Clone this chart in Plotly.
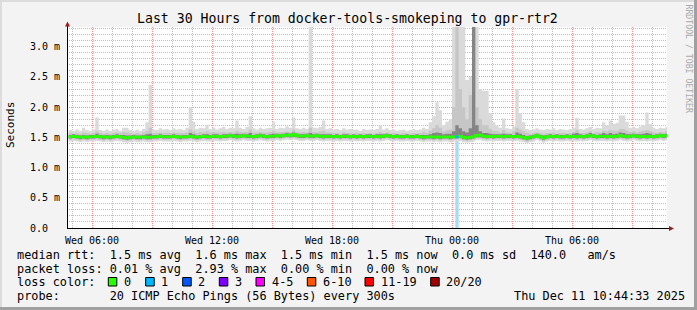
import pandas as pd
import plotly.graph_objects as go

MONO = "DejaVu Sans Mono"

# ---------------- data (milliseconds, 10-minute steps starting Wed 04:50) ----------------
start_time = "2025-12-10 04:50"
step_minutes = 10

median_ms = [
    1.51,1.52,1.51,1.50,1.51,1.50,1.51,1.51,1.52,1.51,
    1.50,1.51,1.50,1.51,1.52,1.51,1.50,1.49,1.50,1.51,
    1.50,1.50,1.51,1.50,1.50,1.51,1.51,1.52,1.51,1.51,
    1.51,1.52,1.51,1.50,1.51,1.51,1.52,1.51,1.50,1.51,
    1.52,1.51,1.51,1.52,1.52,1.51,1.52,1.52,1.53,1.52,
    1.51,1.52,1.53,1.52,1.52,1.51,1.52,1.53,1.52,1.51,
    1.52,1.52,1.53,1.52,1.53,1.54,1.53,1.55,1.53,1.52,
    1.52,1.53,1.52,1.52,1.53,1.52,1.51,1.52,1.52,1.51,
    1.52,1.51,1.52,1.52,1.51,1.52,1.51,1.52,1.51,1.52,
    1.52,1.51,1.52,1.51,1.52,1.53,1.52,1.51,1.52,1.51,
    1.51,1.52,1.51,1.51,1.52,1.51,1.50,1.51,1.51,1.50,
    1.51,1.50,1.51,1.51,1.50,1.51,1.51,1.52,1.50,1.49,
    1.50,1.51,1.53,1.54,1.52,1.51,1.52,1.51,1.52,1.52,
    1.51,1.52,1.52,1.51,1.52,1.51,1.50,1.48,1.50,1.51,
    1.53,1.51,1.49,1.51,1.52,1.51,1.52,1.51,1.51,1.52,
    1.51,1.52,1.51,1.52,1.51,1.52,1.53,1.52,1.51,1.52,
    1.52,1.51,1.52,1.51,1.52,1.53,1.52,1.51,1.52,1.53,
    1.52,1.51,1.52,1.51,1.52,1.51,1.52,1.53,1.52,1.53,
]

smoke_max_ms = [
    1.62,1.60,1.63,1.61,1.66,1.62,1.60,1.63,1.83,1.62,
    1.61,1.63,1.60,1.62,1.64,1.61,1.66,1.66,1.62,1.60,
    1.63,1.61,1.64,1.75,2.37,1.63,1.62,1.65,1.63,1.64,
    1.62,1.65,1.63,1.64,1.62,1.66,2.00,1.76,1.64,1.66,
    1.65,1.71,1.64,1.66,1.63,1.65,1.67,1.64,1.66,1.65,
    1.78,1.66,1.64,1.67,1.85,1.65,1.63,1.66,1.64,1.65,
    1.66,1.75,1.64,1.66,1.65,1.68,1.66,1.83,1.65,1.64,
    1.66,1.64,3.40,1.66,1.65,1.67,1.78,1.64,1.65,1.63,
    1.64,1.62,1.65,1.63,1.64,1.62,1.63,1.61,1.64,1.62,
    1.63,1.62,1.64,1.70,1.63,1.65,1.62,1.63,1.61,1.62,
    1.63,1.61,1.62,1.64,1.62,1.63,1.66,1.64,1.75,1.85,
    2.08,1.95,1.70,1.76,1.80,3.40,3.40,3.40,3.40,2.45,
    2.50,3.40,3.40,2.30,2.27,2.27,1.90,1.75,1.70,1.66,
    1.81,1.65,1.64,1.68,2.30,1.90,1.75,1.64,1.62,1.63,
    1.65,1.63,1.62,1.64,1.63,1.65,1.62,1.64,1.63,1.62,
    1.64,1.66,1.82,1.64,1.63,1.65,1.67,1.64,1.66,1.65,
    1.75,1.70,1.78,1.72,1.74,1.86,1.86,1.76,1.66,1.67,
    1.65,1.68,1.70,1.91,1.72,1.66,1.64,1.66,1.65,1.67,
]

smoke_hi_ms = [
    1.57,1.56,1.57,1.56,1.58,1.57,1.56,1.57,1.60,1.57,
    1.56,1.57,1.56,1.57,1.58,1.57,1.59,1.58,1.57,1.56,
    1.57,1.56,1.58,1.60,1.66,1.57,1.57,1.58,1.57,1.58,
    1.57,1.58,1.57,1.57,1.57,1.58,1.63,1.60,1.57,1.59,
    1.58,1.60,1.58,1.59,1.58,1.58,1.59,1.58,1.59,1.58,
    1.61,1.59,1.58,1.59,1.63,1.58,1.58,1.59,1.58,1.58,
    1.59,1.61,1.58,1.59,1.59,1.60,1.59,1.63,1.59,1.58,
    1.59,1.58,1.66,1.59,1.58,1.60,1.61,1.58,1.58,1.57,
    1.57,1.56,1.58,1.57,1.57,1.56,1.57,1.56,1.57,1.56,
    1.57,1.56,1.57,1.59,1.57,1.58,1.56,1.57,1.56,1.56,
    1.57,1.56,1.56,1.57,1.56,1.57,1.59,1.57,1.61,1.65,
    1.70,1.66,1.60,1.62,1.63,2.00,3.40,2.30,2.00,1.80,
    2.20,3.40,2.00,1.80,1.70,1.70,1.64,1.61,1.60,1.58,
    1.62,1.58,1.57,1.60,1.66,1.63,1.60,1.57,1.56,1.57,
    1.58,1.57,1.56,1.57,1.57,1.58,1.56,1.57,1.57,1.56,
    1.57,1.59,1.62,1.57,1.57,1.58,1.60,1.57,1.59,1.58,
    1.61,1.60,1.62,1.61,1.61,1.64,1.64,1.61,1.59,1.60,
    1.58,1.60,1.61,1.62,1.61,1.59,1.57,1.59,1.58,1.60,
]

q3_ms = [
    1.54,1.55,1.54,1.53,1.54,1.53,1.54,1.54,1.56,1.54,
    1.53,1.54,1.53,1.54,1.55,1.54,1.54,1.53,1.53,1.54,
    1.53,1.53,1.54,1.55,1.56,1.54,1.54,1.55,1.54,1.54,
    1.54,1.55,1.54,1.53,1.54,1.54,1.57,1.55,1.53,1.54,
    1.55,1.55,1.54,1.55,1.55,1.54,1.55,1.55,1.56,1.55,
    1.56,1.55,1.56,1.55,1.57,1.54,1.55,1.56,1.55,1.54,
    1.55,1.56,1.56,1.55,1.56,1.57,1.56,1.58,1.56,1.55,
    1.55,1.56,1.57,1.55,1.56,1.55,1.55,1.55,1.55,1.54,
    1.55,1.54,1.55,1.55,1.54,1.55,1.54,1.55,1.54,1.55,
    1.55,1.54,1.55,1.55,1.55,1.56,1.55,1.54,1.55,1.54,
    1.54,1.55,1.54,1.54,1.55,1.54,1.54,1.54,1.55,1.57,
    1.58,1.57,1.55,1.56,1.56,1.60,1.70,1.65,1.60,1.58,
    1.65,3.40,1.70,1.60,1.57,1.57,1.56,1.55,1.55,1.55,
    1.56,1.55,1.55,1.54,1.58,1.56,1.54,1.52,1.53,1.54,
    1.56,1.54,1.53,1.54,1.55,1.54,1.55,1.54,1.54,1.55,
    1.54,1.56,1.57,1.55,1.54,1.55,1.57,1.55,1.54,1.55,
    1.57,1.55,1.57,1.55,1.56,1.58,1.57,1.55,1.55,1.56,
    1.55,1.55,1.56,1.57,1.56,1.54,1.55,1.56,1.55,1.56,
]

q1_ms = [
    1.48,1.49,1.48,1.47,1.48,1.47,1.48,1.48,1.49,1.48,
    1.47,1.48,1.47,1.48,1.49,1.48,1.47,1.46,1.47,1.48,
    1.47,1.47,1.48,1.47,1.47,1.48,1.48,1.49,1.48,1.48,
    1.48,1.49,1.48,1.47,1.48,1.48,1.49,1.48,1.47,1.48,
    1.49,1.48,1.48,1.49,1.49,1.48,1.49,1.49,1.50,1.49,
    1.48,1.49,1.50,1.49,1.49,1.48,1.49,1.50,1.49,1.48,
    1.49,1.49,1.50,1.49,1.50,1.51,1.50,1.51,1.50,1.49,
    1.49,1.50,1.49,1.49,1.50,1.49,1.48,1.49,1.49,1.48,
    1.49,1.48,1.49,1.49,1.48,1.49,1.48,1.49,1.48,1.49,
    1.49,1.48,1.49,1.48,1.49,1.50,1.49,1.48,1.49,1.48,
    1.48,1.49,1.48,1.48,1.49,1.48,1.47,1.48,1.48,1.47,
    1.48,1.47,1.48,1.48,1.47,1.48,1.48,1.49,1.47,1.46,
    1.47,1.48,1.50,1.50,1.49,1.48,1.49,1.48,1.49,1.49,
    1.48,1.49,1.49,1.48,1.49,1.48,1.47,1.45,1.47,1.48,
    1.50,1.48,1.46,1.48,1.49,1.48,1.49,1.48,1.48,1.49,
    1.48,1.49,1.48,1.49,1.48,1.49,1.50,1.49,1.48,1.49,
    1.49,1.48,1.49,1.48,1.49,1.50,1.49,1.48,1.49,1.50,
    1.49,1.48,1.49,1.48,1.49,1.48,1.49,1.50,1.49,1.50,
]

smoke_lo_ms = [
    1.46,1.47,1.46,1.45,1.46,1.45,1.46,1.46,1.47,1.46,
    1.45,1.46,1.45,1.46,1.47,1.46,1.45,1.44,1.45,1.46,
    1.45,1.45,1.46,1.45,1.45,1.46,1.46,1.47,1.46,1.46,
    1.46,1.47,1.46,1.45,1.46,1.46,1.47,1.46,1.45,1.46,
    1.47,1.46,1.46,1.47,1.47,1.46,1.47,1.47,1.48,1.47,
    1.46,1.47,1.48,1.47,1.47,1.46,1.47,1.48,1.47,1.46,
    1.47,1.47,1.48,1.47,1.48,1.49,1.48,1.49,1.48,1.47,
    1.47,1.48,1.47,1.47,1.48,1.47,1.46,1.47,1.47,1.46,
    1.47,1.46,1.47,1.47,1.46,1.47,1.46,1.47,1.46,1.47,
    1.47,1.46,1.47,1.46,1.47,1.48,1.47,1.46,1.47,1.46,
    1.46,1.47,1.46,1.46,1.47,1.46,1.45,1.46,1.46,1.45,
    1.46,1.45,1.46,1.46,1.45,1.46,1.46,1.47,1.45,1.44,
    1.45,1.46,1.48,1.48,1.47,1.46,1.47,1.46,1.47,1.47,
    1.46,1.47,1.47,1.46,1.47,1.46,1.45,1.43,1.45,1.46,
    1.48,1.46,1.44,1.46,1.47,1.46,1.47,1.46,1.46,1.47,
    1.46,1.47,1.46,1.47,1.46,1.47,1.48,1.47,1.46,1.47,
    1.47,1.46,1.47,1.46,1.47,1.48,1.47,1.46,1.47,1.48,
    1.47,1.46,1.47,1.46,1.47,1.46,1.47,1.48,1.47,1.48,
]

smoke_min_ms = [
    1.43,1.44,1.43,1.42,1.43,1.42,1.43,1.43,1.44,1.43,
    1.42,1.43,1.42,1.43,1.44,1.43,1.42,1.41,1.42,1.43,
    1.42,1.42,1.43,1.42,1.42,1.43,1.43,1.44,1.43,1.43,
    1.43,1.44,1.43,1.42,1.43,1.43,1.44,1.43,1.42,1.43,
    1.44,1.43,1.43,1.44,1.44,1.43,1.44,1.44,1.45,1.44,
    1.43,1.44,1.45,1.44,1.44,1.43,1.44,1.45,1.44,1.43,
    1.44,1.44,1.45,1.44,1.45,1.46,1.45,1.46,1.45,1.44,
    1.44,1.45,1.44,1.44,1.45,1.44,1.43,1.44,1.44,1.43,
    1.44,1.43,1.44,1.44,1.43,1.44,1.43,1.44,1.43,1.44,
    1.44,1.43,1.44,1.43,1.44,1.45,1.44,1.43,1.44,1.43,
    1.43,1.44,1.43,1.43,1.44,1.43,1.42,1.43,1.43,1.42,
    1.43,1.42,1.43,1.43,1.42,1.43,1.43,1.44,1.42,1.41,
    1.42,1.43,1.45,1.45,1.44,1.43,1.44,1.43,1.44,1.44,
    1.43,1.44,1.44,1.43,1.44,1.43,1.42,1.40,1.42,1.43,
    1.45,1.43,1.41,1.43,1.44,1.43,1.44,1.43,1.43,1.44,
    1.43,1.44,1.43,1.44,1.43,1.44,1.45,1.44,1.43,1.44,
    1.44,1.43,1.44,1.43,1.44,1.45,1.44,1.43,1.44,1.45,
    1.44,1.43,1.44,1.43,1.44,1.43,1.44,1.45,1.44,1.45,
]

loss_times = ["2025-12-11 00:10"]
loss_pings = [1]

x_range = ["2025-12-10 04:45", "2025-12-11 10:45"]
x_tick_vals = ["2025-12-10 06:00", "2025-12-10 09:00", "2025-12-10 12:00", "2025-12-10 15:00",
               "2025-12-10 18:00", "2025-12-10 21:00", "2025-12-11 00:00", "2025-12-11 03:00",
               "2025-12-11 06:00", "2025-12-11 09:00"]
x_tick_text = ["Wed 06:00", "", "Wed 12:00", "", "Wed 18:00", "", "Thu 00:00", "", "Thu 06:00", ""]
y_tick_vals = [0.0, 0.5, 1.0, 1.5, 2.0, 2.5, 3.0]
y_tick_text = ["0.0\u00a0\u00a0", "0.5 m", "1.0 m", "1.5 m", "2.0 m", "2.5 m", "3.0 m"]

loss_labels = ["0", "1", "2", "3", "4-5", "6-10", "11-19", "20/20"]
loss_colors = ["#26ff00", "#00b8ff", "#0059ff", "#7e00ff", "#ff00ff", "#ff5500", "#ff0000", "#a10000"]

title_text = "Last 30 Hours from docker-tools-smokeping to gpr-rtr2"
stat_line_1 = "median rtt:  1.5 ms avg  1.6 ms max  1.5 ms min  1.5 ms now  0.0 ms sd  140.0   am/s"
stat_line_2 = "packet loss: 0.01 % avg  2.93 % max  0.00 % min  0.00 % now"
stat_line_3 = "loss color:"
probe_line = "probe:       20 ICMP Echo Pings (56 Bytes) every 300s"
stamp_text = "Thu Dec 11 10:44:33 2025"

# ---------------- geometry helpers (pixel -> paper) ----------------
W, H = 697, 310
L, R, T, B = 67, 30, 27, 82
PW, PH = W - L - R, H - T - B


def PX(x):
    return (x - L) / PW


def PY(y):
    return (H - B - y) / PH


step = pd.Timedelta(minutes=step_minutes)
times = list(pd.date_range(start_time, periods=len(median_ms), freq=f"{step_minutes}min"))
xs = times + [times[-1] + step]


def stepped(v):
    return list(v) + [v[-1]]


# minor grid positions (hourly / 0.1 ms) that do not coincide with major grid lines
x_minor = [t for t in pd.date_range("2025-12-10 05:00", "2025-12-11 10:00", freq="1h") if t.hour % 3 != 0]
y_minor = [round(k * 0.1, 1) for k in range(1, 34) if k % 5 != 0]

fig = go.Figure()

bands = [
    (smoke_min_ms, smoke_max_ms, "#dadada"),
    (smoke_lo_ms, smoke_hi_ms, "#c6c6c6"),
    (q1_ms, q3_ms, "#858585"),
]
for lo, hi, col in bands:
    fig.add_trace(go.Scatter(x=xs, y=stepped(lo), mode="lines", line=dict(width=0, shape="hv"),
                             hoverinfo="skip", showlegend=False))
    fig.add_trace(go.Scatter(x=xs, y=stepped(hi), mode="lines", line=dict(width=0, shape="hv"),
                             fill="tonexty", fillcolor=col, hoverinfo="skip", showlegend=False))

# loss bars and median
for lt, lp in zip(loss_times, loss_pings):
    t0 = pd.Timestamp(lt)
    idx = times.index(t0)
    m = median_ms[idx]
    fig.add_trace(go.Bar(x=[t0 + step / 2], y=[m], width=step.total_seconds() * 1000,
                         marker=dict(color="#a8dcf6", line=dict(width=0)), showlegend=False,
                         hoverinfo="skip"))

fig.add_trace(go.Scatter(x=xs, y=stepped(median_ms), mode="lines",
                         line=dict(color=loss_colors[0], width=2.5, shape="hv"),
                         showlegend=False))

for lt, lp in zip(loss_times, loss_pings):
    t0 = pd.Timestamp(lt)
    idx = times.index(t0)
    m = median_ms[idx]
    fig.add_trace(go.Scatter(x=[t0, t0 + step], y=[m, m], mode="lines",
                             line=dict(color=loss_colors[1], width=2.5), showlegend=False))

grid_major = "rgba(255,0,0,0.45)"
grid_minor = "rgba(0,0,0,0.25)"
dots = "1px,1px"

fig.update_layout(
    width=W, height=H,
    margin=dict(l=L, r=R, t=T, b=B, pad=0),
    paper_bgcolor="#f3f3f3",
    plot_bgcolor="#ffffff",
    showlegend=False,
    barmode="overlay",
    font=dict(family=MONO, color="#000000"),
    xaxis=dict(
        type="date", range=x_range,
        tickmode="array", tickvals=x_tick_vals, ticktext=x_tick_text,
        tickfont=dict(family=MONO, size=10, color="#000000"),
        showgrid=True, gridcolor=grid_major, griddash=dots, gridwidth=1,
        minor=dict(tickmode="array", tickvals=x_minor, showgrid=True,
                   gridcolor=grid_minor, griddash=dots, gridwidth=1),
        ticks="outside", ticklen=3, tickcolor="rgba(0,0,0,0)",
        showline=False, zeroline=False, fixedrange=True,
    ),
    yaxis=dict(
        range=[0, 3.326],
        tickmode="array", tickvals=y_tick_vals, ticktext=y_tick_text,
        tickfont=dict(family=MONO, size=10, color="#000000"),
        showgrid=True, gridcolor=grid_major, griddash=dots, gridwidth=1,
        minor=dict(tickmode="array", tickvals=y_minor, showgrid=True,
                   gridcolor=grid_minor, griddash=dots, gridwidth=1),
        ticks="outside", ticklen=4, tickcolor="rgba(0,0,0,0)",
        showline=False, zeroline=False, fixedrange=True,
    ),
)

shapes = []
# axis lines
shapes.append(dict(type="line", xref="paper", yref="paper", x0=PX(67.5), x1=PX(67.5),
                   y0=PY(228.5), y1=PY(26), line=dict(color="#000000", width=1), layer="above"))
shapes.append(dict(type="line", xref="paper", yref="paper", x0=PX(67), x1=PX(669),
                   y0=PY(228.5), y1=PY(228.5), line=dict(color="#000000", width=1), layer="above"))
# arrow heads
arrow_col = "#9b1c1c"
shapes.append(dict(type="path", xref="paper", yref="paper", layer="above",
                   path=f"M {PX(67.5)},{PY(21.5)} L {PX(65)},{PY(26.5)} L {PX(70)},{PY(26.5)} Z",
                   fillcolor=arrow_col, line=dict(width=0)))
shapes.append(dict(type="path", xref="paper", yref="paper", layer="above",
                   path=f"M {PX(674)},{PY(228.5)} L {PX(669)},{PY(226)} L {PX(669)},{PY(231)} Z",
                   fillcolor=arrow_col, line=dict(width=0)))
# frame
shapes.append(dict(type="rect", xref="paper", yref="paper", x0=PX(0), x1=PX(697), y0=PY(2), y1=PY(0),
                   fillcolor="#dcdcdc", line=dict(width=0), layer="above"))
shapes.append(dict(type="rect", xref="paper", yref="paper", x0=PX(0), x1=PX(2), y0=PY(310), y1=PY(0),
                   fillcolor="#dcdcdc", line=dict(width=0), layer="above"))
shapes.append(dict(type="rect", xref="paper", yref="paper", x0=PX(0), x1=PX(697), y0=PY(310), y1=PY(307),
                   fillcolor="#a0a0a0", line=dict(width=0), layer="above"))
shapes.append(dict(type="rect", xref="paper", yref="paper", x0=PX(694), x1=PX(697), y0=PY(310), y1=PY(0),
                   fillcolor="#a0a0a0", line=dict(width=0), layer="above"))

# legend colour boxes
box_left = [108.3, 145.7, 182.7, 219.3, 256, 307.3, 365, 430.7]
label_left = [123, 160, 196.7, 234, 270.7, 321.7, 380, 445]
for bx, col in zip(box_left, loss_colors):
    shapes.append(dict(type="rect", xref="paper", yref="paper", x0=PX(bx), x1=PX(bx + 8.5),
                       y0=PY(286), y1=PY(277.5), fillcolor=col, line=dict(color="#000000", width=1),
                       layer="above"))
fig.update_layout(shapes=shapes)


def nb(s):
    return s.replace(" ", "\u00a0")


LEG = 11.85
ann = []
ann.append(dict(x=PX(347.5), y=PY(18), text=nb(title_text), xanchor="center", yanchor="middle",
                font=dict(family=MONO, size=13.2, color="#000000")))
ann.append(dict(x=PX(10), y=PY(125), text="Seconds", textangle=-90, xanchor="center", yanchor="middle",
                font=dict(family=MONO, size=11, color="#000000")))
ann.append(dict(x=PX(688.5), y=PY(59), text=nb("RRDTOOL / TOBI OETIKER"), textangle=90,
                xanchor="center", yanchor="middle", font=dict(family=MONO, size=8.2, color="#aaaaaa")))
for txt, yy in [(stat_line_1, 255), (stat_line_2, 268.5), (stat_line_3, 282), (probe_line, 295.5)]:
    ann.append(dict(x=PX(16), y=PY(yy), text=nb(txt), xanchor="left", yanchor="middle",
                    font=dict(family=MONO, size=LEG, color="#000000")))
for lx, lab in zip(label_left, loss_labels):
    ann.append(dict(x=PX(lx), y=PY(282), text=nb(lab), xanchor="left", yanchor="middle",
                    font=dict(family=MONO, size=LEG, color="#000000")))
ann.append(dict(x=PX(513), y=PY(295.5), text=nb(stamp_text), xanchor="left", yanchor="middle",
                font=dict(family=MONO, size=LEG, color="#000000")))
for a in ann:
    a.update(xref="paper", yref="paper", showarrow=False, borderpad=0)
fig.update_layout(annotations=ann)

fig.write_html("out.html")
